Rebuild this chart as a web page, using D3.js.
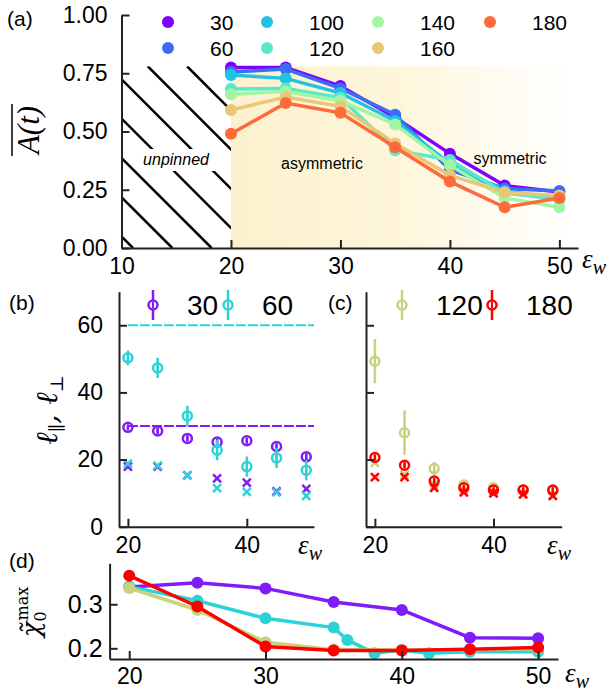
<!DOCTYPE html>
<html>
<head>
<meta charset="utf-8">
<script src="https://cdn.jsdelivr.net/npm/d3@7.9.0/dist/d3.min.js"></script>
<style>
  body { margin: 0; background: #fff; }
  svg { font-family: "Liberation Sans", Arial, sans-serif; }
</style>
</head>
<body>
<svg id="fig" width="614" height="696"></svg>
<script>
// ---- panel (a): time-averaged A(t) vs eps_w, one series per size
const epsA = [20, 25, 30, 35, 40, 45, 50];
const sizesA = [30, 60, 100, 120, 140, 160, 180];
const colorsA = ["#8000ff", "#3f6cf4", "#22c2e6", "#58eac8", "#a2f5a2", "#e8c878", "#ff6a3a"];
const a30  = [0.775, 0.775, 0.695, 0.560, 0.405, 0.268, 0.240];
const a60  = [0.755, 0.768, 0.685, 0.572, 0.335, 0.255, 0.245];
const a100 = [0.742, 0.728, 0.665, 0.545, 0.362, 0.245, 0.212];
const a120 = [0.682, 0.685, 0.645, 0.420, 0.378, 0.236, 0.208];
const a140 = [0.660, 0.672, 0.632, 0.530, 0.355, 0.215, 0.175];
const a160 = [0.592, 0.648, 0.608, 0.448, 0.312, 0.238, 0.225];
const a180 = [0.490, 0.622, 0.580, 0.432, 0.285, 0.175, 0.215];
const valuesA = [a30, a60, a100, a120, a140, a160, a180];
const regionTop = 0.78;

// ---- panels (b), (c): l_par (circles, with error) and l_perp (crosses)
const epsB = [20, 25, 30, 35, 40, 45, 50];
const par30 = [29.6, 28.5, 26.3, 25.2, 25.6, 23.9, 20.8];
const par30Err = [0.6, 0.8, 0.8, 0.8, 0.8, 0.8, 1.0];
const perp30 = [17.9, 17.9, 15.3, 14.4, 13.1, 10.5, 11.3];
const par60 = [50.3, 47.3, 33.0, 22.8, 17.9, 20.5, 16.8];
const par60Err = [2.2, 3.0, 3.0, 3.0, 3.0, 3.0, 3.0];
const perp60 = [18.8, 18.2, 15.3, 11.5, 10.4, 10.2, 9.2];
const par120 = [49.3, 28.0, 17.3, 12.4, 11.6, 11.0, 10.6];
const par120Err = [6.6, 6.6, 2.0, 1.0, 0.8, 0.6, 0.6];
const perp120 = [19.0, 15.5, 12.5, 10.8, 10.2, 9.8, 9.3];
const par180 = [20.6, 18.3, 13.6, 11.6, 10.9, 10.9, 10.9];
const par180Err = [0.8, 0.8, 0.8, 0.6, 0.6, 0.6, 0.6];
const perp180 = [14.8, 14.8, 11.6, 10.2, 9.9, 9.6, 9.2];
const refLevelsB = [30, 60];

// ---- panel (d): chi0 max
const epsD = [20, 25, 30, 35, 40, 45, 50];
const epsD60 = [20, 25, 30, 35, 36, 38, 40, 42, 45, 50];
const chi30 = [0.339, 0.349, 0.336, 0.305, 0.287, 0.224, 0.223];
const chi30Err = [0, 0, 0, 0, 0.010, 0, 0];
const chi60 = [0.340, 0.308, 0.268, 0.247, 0.219, 0.189, 0.196, 0.189, 0.192, 0.192];
const chi60Err = [0, 0, 0, 0, 0.012, 0, 0, 0, 0, 0];
const chi120 = [0.337, 0.287, 0.214, 0.197, 0.196, 0.197, 0.199];
const chi120Err = [0.008, 0.010, 0.004, 0, 0, 0, 0];
const chi180 = [0.365, 0.295, 0.204, 0.195, 0.195, 0.198, 0.202];
const chi180Err = [0.010, 0.006, 0, 0, 0, 0, 0];

const VIOLET = "#7f1cf7", TURQ = "#2cd3d6", OLIVE = "#c9d27c", RED = "#ff0000";
const AX = "#222";

const svg = d3.select("#fig");
const defs = svg.append("defs");

function styleAxis(g, size) {
  g.select(".domain").attr("stroke", AX).attr("stroke-width", 2);
  g.selectAll(".tick line").attr("stroke", AX).attr("stroke-width", 2);
  g.selectAll(".tick text").attr("fill", "#000")
    .style("font-size", size + "px")
    .style("font-family", '"Liberation Sans", Arial, sans-serif');
}

function epsLabel(x, y) {
  const t = svg.append("text").attr("x", x).attr("y", y)
    .style("font-family", '"Liberation Serif", "DejaVu Serif", serif')
    .style("font-style", "italic");
  t.append("tspan").style("font-size", "27px").text("ε");
  t.append("tspan").attr("dy", 6).style("font-size", "20px").text("w");
}

function panelLabel(x, y, s) {
  svg.append("text").attr("x", x).attr("y", y).style("font-size", "21px").text(s);
}

// ================= panel (a) =================
const xA = d3.scaleLinear().domain([10, 51.7]).range([121.5, 578]);
const yA = d3.scaleLinear().domain([0, 1]).range([248, 15]);

const grad = defs.append("linearGradient").attr("id", "warm").attr("x1", 0).attr("x2", 1).attr("y1", 0).attr("y2", 0);
grad.append("stop").attr("offset", "0%").attr("stop-color", "#fcf1cd");
grad.append("stop").attr("offset", "50%").attr("stop-color", "#fef6dc");
grad.append("stop").attr("offset", "100%").attr("stop-color", "#ffffff");

svg.append("rect")
  .attr("x", xA(20)).attr("y", yA(regionTop))
  .attr("width", xA(51.2) - xA(20)).attr("height", yA(0) - yA(regionTop))
  .attr("fill", "url(#warm)");

defs.append("clipPath").attr("id", "clipHatch").append("rect")
  .attr("x", xA(10)).attr("y", yA(regionTop))
  .attr("width", xA(20) - xA(10)).attr("height", yA(0) - yA(regionTop));

const hTop = yA(regionTop), hBot = yA(0), H = hBot - hTop;
const hatch = svg.append("g").attr("clip-path", "url(#clipHatch)");
d3.range(-2, 10).forEach(k => {
  const xb = xA(10) + 11.5 + 39.3 * k;
  hatch.append("line")
    .attr("x1", xb - H).attr("y1", hTop).attr("x2", xb).attr("y2", hBot)
    .attr("stroke", "#000").attr("stroke-width", 2.5);
});
// white box behind "unpinned"
svg.append("rect").attr("x", 137).attr("y", 149).attr("width", 78).attr("height", 22).attr("fill", "#fff");
svg.append("text").attr("x", 176).attr("y", 165).attr("text-anchor", "middle")
  .style("font-size", "16px").style("font-style", "italic").text("unpinned");
svg.append("text").attr("x", 322).attr("y", 169).attr("text-anchor", "middle")
  .style("font-size", "16px").text("asymmetric");
svg.append("text").attr("x", 510).attr("y", 164).attr("text-anchor", "middle")
  .style("font-size", "16px").text("symmetric");

const lineA = d3.line().x((d, i) => xA(epsA[i])).y(d => yA(d));
valuesA.forEach((vals, s) => {
  svg.append("path").attr("d", lineA(vals)).attr("fill", "none")
    .attr("stroke", colorsA[s]).attr("stroke-width", 3.5);
  svg.append("g").selectAll("circle").data(vals).join("circle")
    .attr("cx", (d, i) => xA(epsA[i])).attr("cy", d => yA(d))
    .attr("r", 6).attr("fill", colorsA[s]);
});

const gxA = svg.append("g").attr("transform", `translate(0,${yA(0)})`)
  .call(d3.axisBottom(xA).tickValues([10, 20, 30, 40, 50]).tickSize(-8).tickSizeOuter(0).tickPadding(10));
styleAxis(gxA, 23);
const gyA = svg.append("g").attr("transform", `translate(${xA(10)},0)`)
  .call(d3.axisLeft(yA).tickValues([0, 0.25, 0.5, 0.75, 1]).tickFormat(d3.format(".2f"))
    .tickSize(-8).tickSizeOuter(0).tickPadding(14));
styleAxis(gyA, 23);
epsLabel(582, 268);

// legend (a)
const legCols = [168, 267, 378, 490];
sizesA.forEach((n, s) => {
  const cx = legCols[Math.floor(s / 2)], cy = s % 2 === 0 ? 22 : 48;
  svg.append("circle").attr("cx", cx).attr("cy", cy).attr("r", 6).attr("fill", colorsA[s]);
  svg.append("text").attr("x", cx + 42).attr("y", cy + 7.5).style("font-size", "21px").text(n);
});

// y label (a): overline A(t)
const ylabA = svg.append("g").attr("transform", "translate(39,130) rotate(-90)");
const yt = ylabA.append("text").attr("text-anchor", "middle")
  .style("font-family", '"Liberation Serif", "DejaVu Serif", serif').style("font-style", "italic")
  .style("font-size", "31px").text("A(t)");
const ytw = yt.node().getComputedTextLength();
ylabA.append("line").attr("x1", -ytw / 2 - 2).attr("x2", ytw / 2 + 2).attr("y1", -27).attr("y2", -27)
  .attr("stroke", "#000").attr("stroke-width", 1.5);

panelLabel(7, 26, "(a)");

// ================= panels (b), (c) =================
const yB = d3.scaleLinear().domain([0, 70]).range([526.7, 291.7]);
const xB = d3.scaleLinear().domain([18.5, 51.3]).range([119, 314]);
const xC = d3.scaleLinear().domain([18.5, 51.5]).range([366, 561.7]);

function errMarkers(x, par, err, color) {
  const g = svg.append("g");
  g.selectAll("line").data(par).join("line")
    .attr("x1", (d, i) => x(epsB[i])).attr("x2", (d, i) => x(epsB[i]))
    .attr("y1", (d, i) => yB(d - err[i])).attr("y2", (d, i) => yB(d + err[i]))
    .attr("stroke", color).attr("stroke-width", 2.5);
  g.selectAll("circle").data(par).join("circle")
    .attr("cx", (d, i) => x(epsB[i])).attr("cy", d => yB(d))
    .attr("r", 4.5).attr("fill", "none").attr("stroke", color).attr("stroke-width", 2.5);
  g.selectAll("line.tick2").data(par).join("line").attr("class", "tick2")
    .attr("x1", (d, i) => x(epsB[i])).attr("x2", (d, i) => x(epsB[i]))
    .attr("y1", d => yB(d) - 3).attr("y2", d => yB(d) + 3)
    .attr("stroke", color).attr("stroke-width", 2);
}
function crosses(x, perp, color) {
  const s = 4;
  const g = svg.append("g");
  perp.forEach((d, i) => {
    const cx = x(epsB[i]), cy = yB(d);
    g.append("path").attr("d", `M${cx - s},${cy - s}L${cx + s},${cy + s}M${cx - s},${cy + s}L${cx + s},${cy - s}`)
      .attr("stroke", color).attr("stroke-width", 2.5).attr("fill", "none");
  });
}
function legendErr(cx, cy, color, label) {
  svg.append("line").attr("x1", cx).attr("x2", cx).attr("y1", cy - 15).attr("y2", cy + 15)
    .attr("stroke", color).attr("stroke-width", 2.5);
  svg.append("circle").attr("cx", cx).attr("cy", cy).attr("r", 4.5).attr("fill", "#fff")
    .attr("stroke", color).attr("stroke-width", 2.5);
  svg.append("line").attr("x1", cx).attr("x2", cx).attr("y1", cy - 3).attr("y2", cy + 3)
    .attr("stroke", color).attr("stroke-width", 2);
  svg.append("text").attr("x", cx + 34).attr("y", cy + 10).style("font-size", "28px").text(label);
}

// reference levels in (b)
const refColors = [VIOLET, TURQ];
refLevelsB.forEach((v, i) => {
  svg.append("line").attr("x1", xB(20)).attr("x2", xB(51.3)).attr("y1", yB(v)).attr("y2", yB(v))
    .attr("stroke", refColors[i]).attr("stroke-width", 2).attr("stroke-dasharray", "10,2");
});

crosses(xB, perp30, VIOLET);
crosses(xB, perp60, TURQ);
errMarkers(xB, par30, par30Err, VIOLET);
errMarkers(xB, par60, par60Err, TURQ);

crosses(xC, perp120, OLIVE);
errMarkers(xC, par120, par120Err, OLIVE);
crosses(xC, perp180, RED);
errMarkers(xC, par180, par180Err, RED);

const gxB = svg.append("g").attr("transform", `translate(0,${yB(0)})`)
  .call(d3.axisBottom(xB).tickValues([20, 40]).tickSize(-8).tickSizeOuter(0).tickPadding(10));
styleAxis(gxB, 23);
const gyB = svg.append("g").attr("transform", `translate(${xB.range()[0]},0)`)
  .call(d3.axisLeft(yB).tickValues([0, 20, 40, 60]).tickSize(-8).tickSizeOuter(0).tickPadding(16));
styleAxis(gyB, 23);
const gxC = svg.append("g").attr("transform", `translate(0,${yB(0)})`)
  .call(d3.axisBottom(xC).tickValues([20, 40]).tickSize(-8).tickSizeOuter(0).tickPadding(10));
styleAxis(gxC, 23);
const gyC = svg.append("g").attr("transform", `translate(${xC.range()[0]},0)`)
  .call(d3.axisLeft(yB).tickValues([0, 20, 40, 60]).tickFormat("").tickSize(-8).tickSizeOuter(0));
styleAxis(gyC, 23);
epsLabel(298, 554);
epsLabel(547, 554);

legendErr(153, 305, VIOLET, "30");
legendErr(228, 305, TURQ, "60");
legendErr(402, 305, OLIVE, "120");
legendErr(492, 305, RED, "180");

// y label (b)
const ylabB = svg.append("text").attr("transform", "translate(57,410) rotate(-90)")
  .attr("text-anchor", "middle")
  .style("font-family", '"DejaVu Serif", serif').style("font-style", "italic");
ylabB.append("tspan").style("font-size", "30px").text("ℓ");
ylabB.append("tspan").attr("dy", 6).style("font-size", "18px").text("∥");
ylabB.append("tspan").attr("dy", -6).style("font-size", "30px").text(", ℓ");
ylabB.append("tspan").attr("dy", 6).style("font-size", "18px").text("⊥");

panelLabel(9, 310, "(b)");
panelLabel(328, 310, "(c)");

// ================= panel (d) =================
const xD = d3.scaleLinear().domain([18.56, 51.46]).range([109.6, 558]);
const yD = d3.scaleLinear().domain([0.1757, 0.393]).range([659, 563.3]);

function chiSeries(xs, vals, errs, color) {
  const line = d3.line().x((d, i) => xD(xs[i])).y(d => yD(d));
  svg.append("path").attr("d", line(vals)).attr("fill", "none")
    .attr("stroke", color).attr("stroke-width", 3.5);
  const g = svg.append("g");
  g.selectAll("line").data(vals).join("line")
    .attr("x1", (d, i) => xD(xs[i])).attr("x2", (d, i) => xD(xs[i]))
    .attr("y1", (d, i) => yD(d - errs[i])).attr("y2", (d, i) => yD(d + errs[i]))
    .attr("stroke", color).attr("stroke-width", 2.5);
  g.selectAll("circle").data(vals).join("circle")
    .attr("cx", (d, i) => xD(xs[i])).attr("cy", d => yD(d))
    .attr("r", 6).attr("fill", color);
}
chiSeries(epsD, chi30, chi30Err, VIOLET);
chiSeries(epsD60, chi60, chi60Err, TURQ);
chiSeries(epsD, chi120, chi120Err, OLIVE);
chiSeries(epsD, chi180, chi180Err, RED);

const gxD = svg.append("g").attr("transform", `translate(0,${yD.range()[0]})`)
  .call(d3.axisBottom(xD).tickValues([20, 30, 40, 50]).tickSize(-8).tickSizeOuter(0).tickPadding(9));
styleAxis(gxD, 23);
const gyD = svg.append("g").attr("transform", `translate(${xD.range()[0]},0)`)
  .call(d3.axisLeft(yD).tickValues([0.2, 0.3]).tickFormat(d3.format(".1f")).tickSize(-8).tickSizeOuter(0).tickPadding(7));
styleAxis(gyD, 25);
epsLabel(565, 682);

// y label (d)
const ylabD = svg.append("text").attr("transform", "translate(40,612) rotate(-90)")
  .attr("text-anchor", "middle")
  .style("font-family", '"DejaVu Serif", serif');
ylabD.append("tspan").style("font-size", "26px").style("font-style", "italic").text("χ̃");
ylabD.append("tspan").attr("dy", 6).style("font-size", "16px").text("0");
ylabD.append("tspan").attr("dx", -9).attr("dy", -18).style("font-size", "16px").text("max");

panelLabel(9, 568, "(d)");
</script>
</body>
</html>
